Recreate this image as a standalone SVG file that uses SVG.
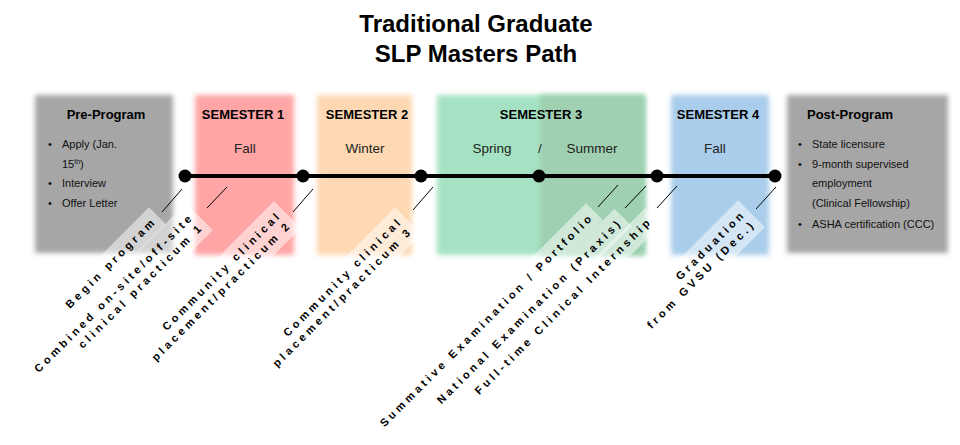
<svg xmlns="http://www.w3.org/2000/svg" width="960" height="445" viewBox="0 0 960 445">
<defs>
<filter id="soft" x="-10%" y="-10%" width="120%" height="120%"><feGaussianBlur stdDeviation="2.5"/></filter>
<style>
text{font-family:"Liberation Sans",Arial,sans-serif;fill:#000}
.title{font-size:24px;font-weight:bold;text-anchor:middle}
.hdr{font-size:13px;font-weight:bold}
.c{text-anchor:middle}
.sea{font-size:13.5px;fill:#222;text-anchor:middle}
.li{font-size:11px;fill:#111}
.lbl{font-size:11px;font-weight:bold;letter-spacing:3.5px;text-anchor:end}
.lbox{fill:#fff;fill-opacity:0.5}
.slash{stroke:#000;stroke-width:1}
</style>
</defs>
<rect width="960" height="445" fill="#fff"/>
<g id="title">
<text class="title" x="476" y="32">Traditional Graduate</text>
<text class="title" x="476" y="62">SLP Masters Path</text>
</g>
<g id="pre-program">
<rect x="35" y="95" width="138" height="158" fill="#a6a6a6" filter="url(#soft)"/>
<text class="hdr c" x="106" y="119">Pre-Program</text>
<text class="li" x="48" y="148">•</text><text class="li" x="62" y="148">Apply  (Jan.</text>
<text class="li" x="62" y="168">15<tspan font-size="7" dy="-4">th</tspan><tspan dy="4">)</tspan></text>
<text class="li" x="48" y="187">•</text><text class="li" x="62" y="187">Interview</text>
<text class="li" x="48" y="207">•</text><text class="li" x="62" y="207">Offer Letter</text>
</g>
<g id="semester1">
<rect x="195" y="95" width="99" height="160" fill="#ffa5a5" filter="url(#soft)"/>
<text class="hdr c" x="243" y="119">SEMESTER 1</text>
<text class="sea" x="245" y="153">Fall</text>
</g>
<g id="semester2">
<rect x="317" y="95" width="95" height="160" fill="#fdd8b2" filter="url(#soft)"/>
<text class="hdr c" x="367" y="119">SEMESTER 2</text>
<text class="sea" x="365" y="153">Winter</text>
</g>
<g id="semester3">
<rect x="437" y="95" width="208" height="160" fill="#a5e2c3" filter="url(#soft)"/>
<rect x="540" y="95" width="105" height="160" fill="#9fd0b1" filter="url(#soft)"/>
<text class="hdr c" x="541" y="119">SEMESTER 3</text>
<text class="sea" x="492" y="153">Spring</text>
<text class="sea" x="540" y="153">/</text>
<text class="sea" x="592" y="153">Summer</text>
</g>
<g id="semester4">
<rect x="671" y="95" width="98" height="160" fill="#a9cdea" filter="url(#soft)"/>
<text class="hdr c" x="718" y="119">SEMESTER 4</text>
<text class="sea" x="715" y="153">Fall</text>
</g>
<g id="post-program">
<rect x="787" y="95" width="161" height="158" fill="#a6a6a6" filter="url(#soft)"/>
<text class="hdr" x="807" y="119">Post-Program</text>
<text class="li" x="798" y="148">•</text><text class="li" x="812" y="148">State licensure</text>
<text class="li" x="798" y="168">•</text><text class="li" x="812" y="168">9-month supervised</text>
<text class="li" x="812" y="187">employment</text>
<text class="li" x="812" y="207">(Clinical Fellowship)</text>
<text class="li" x="798" y="228">•</text><text class="li" x="812" y="228">ASHA certification (CCC)</text>
</g>
<g id="label-begin" transform="translate(157.5,221.5) rotate(-45)">
<rect class="lbox" x="-130" y="-16" width="134" height="24"/>
<text class="lbl">Begin program</text>
</g>
<g id="label-practicum1" transform="translate(194.5,217.5) rotate(-45)">
<rect class="lbox" x="-226" y="-16" width="230" height="38"/>
<text class="lbl"><tspan x="0" y="0">Combined on-site/off-site</tspan><tspan x="0" y="14">clinical practicum 1</tspan></text>
</g>
<g id="label-practicum2" transform="translate(282.5,215.5) rotate(-45)">
<rect class="lbox" x="-199" y="-16" width="203" height="38"/>
<text class="lbl"><tspan x="0" y="0">Community clinical</tspan><tspan x="0" y="14">placement/practicum 2</tspan></text>
</g>
<g id="label-practicum3" transform="translate(403.5,221.5) rotate(-45)">
<rect class="lbox" x="-199" y="-16" width="203" height="38"/>
<text class="lbl"><tspan x="0" y="0">Community clinical</tspan><tspan x="0" y="14">placement/practicum 3</tspan></text>
</g>
<g id="label-summative" transform="translate(594.5,217.5) rotate(-45)">
<rect class="lbox" x="-303" y="-16" width="307" height="24"/>
<text class="lbl">Summative Examination / Portfolio</text>
</g>
<g id="label-praxis" transform="translate(623,223) rotate(-45)">
<rect class="lbox" x="-263" y="-16" width="267" height="24"/>
<text class="lbl">National Examination (Praxis)</text>
</g>
<g id="label-internship" transform="translate(653,221.5) rotate(-45)">
<rect class="lbox" x="-252" y="-15" width="256" height="23"/>
<text class="lbl">Full-time Clinical Internship</text>
</g>
<g id="label-graduation" transform="translate(746.5,214.5) rotate(-45)">
<rect class="lbox" x="-155" y="-16" width="159" height="38"/>
<text class="lbl"><tspan x="0" y="0">Graduation</tspan><tspan x="0" y="14">from GVSU (Dec.)</tspan></text>
</g>
<g id="timeline">
<line x1="185" y1="176" x2="775" y2="176" stroke="#000" stroke-width="4"/>
<circle cx="185" cy="176" r="6.5"/>
<circle cx="303" cy="176" r="6.5"/>
<circle cx="421" cy="176" r="6.5"/>
<circle cx="539" cy="176" r="6.5"/>
<circle cx="657" cy="176" r="6.5"/>
<circle cx="775" cy="176" r="6.5"/>
</g>
<g id="connectors">
<line class="slash" x1="162" y1="212" x2="182" y2="189"/>
<line class="slash" x1="207" y1="208" x2="227" y2="187"/>
<line class="slash" x1="293" y1="212" x2="313" y2="189"/>
<line class="slash" x1="413" y1="210" x2="433" y2="187"/>
<line class="slash" x1="598" y1="207" x2="618" y2="185"/>
<line class="slash" x1="625" y1="208" x2="646" y2="186"/>
<line class="slash" x1="657" y1="208" x2="677" y2="186"/>
<line class="slash" x1="756" y1="209" x2="776" y2="187"/>
</g>
</svg>
